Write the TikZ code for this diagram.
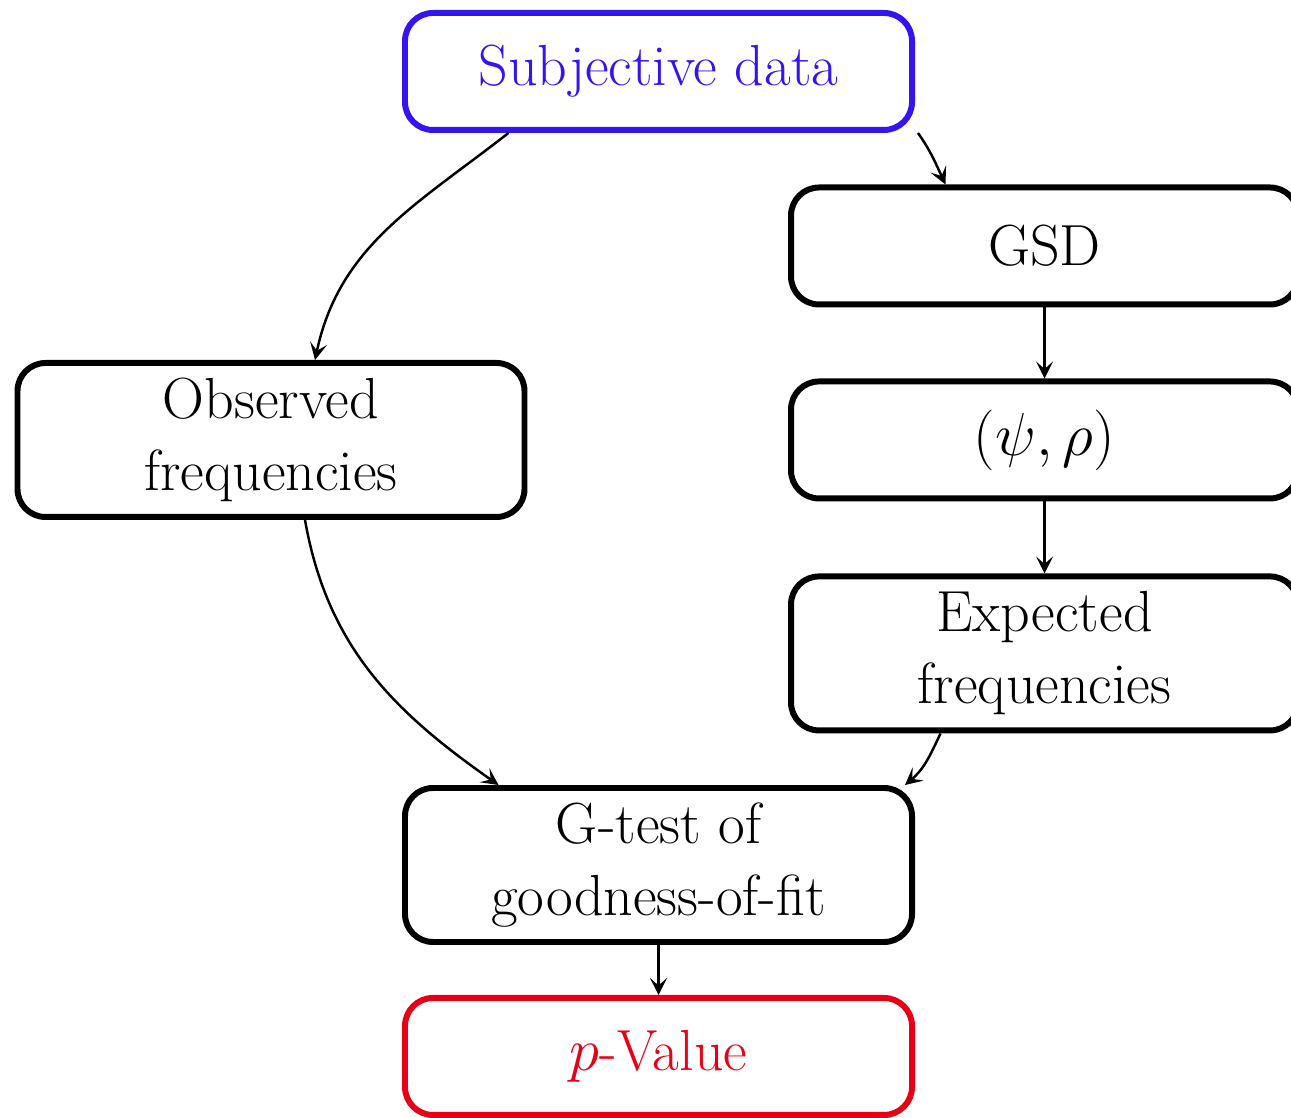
\documentclass[tikz,border=0pt]{standalone}
\usepackage{amsmath,amssymb}
\usepackage{tikz}
\usetikzlibrary{arrows,arrows.meta,positioning,calc}
\usepackage{xcolor}

\definecolor{subjblue}{RGB}{52,20,240}
\definecolor{pvalred}{RGB}{232,0,22}

\tikzset{
    box/.style={draw, line width=1.7pt, rounded corners=0.28cm, align=center,
        minimum width=5.07cm, minimum height=1.17cm, inner sep=2pt,
        font=\fontsize{16.5}{20.5}\selectfont},
    tallbox/.style={box, minimum height=1.54cm},
    flow/.style={-{Stealth[length=1.7mm, width=1.7mm, inset=0.75mm]}, line width=0.7pt},
}

\begin{document}
\begin{tikzpicture}
                \useasboundingbox (0,0) rectangle (12.91,11.18);
                % Boxes
                \node[box, draw=subjblue, text=subjblue] (subj) at (6.585,10.465) {Subjective data};
                \node[box] (gsd) at (10.445,8.72) {GSD};
                \node[box, below=0.71cm of gsd] (psi) {$(\psi,\rho)$};
                \node[tallbox, below=0.72cm of psi] (expf) {Expected\\frequencies};
                \node[tallbox] (obs) at (2.71,6.78) {Observed\\frequencies};
                \node[tallbox] (gtest) at (6.585,2.53) {G-test of\\goodness-of-fit};
                \node[box, draw=pvalred, text=pvalred, below=0.5cm of gtest] (pval) {$p$-Value};
                % Arrows
                \draw[flow] ([xshift=-1.5cm]subj.south) to[out=218,in=78] ([xshift=0.44cm]obs.north);
                \draw[flow] ([xshift=0.03cm]subj.south east) to[out=-55,in=115] ([xshift=-0.99cm]gsd.north);
                \draw[flow] (gsd) -- (psi);
                \draw[flow] (psi) -- (expf);
                \draw[flow] ([xshift=0.34cm]obs.south) to[out=-80,in=145] ([xshift=-1.6cm]gtest.north);
                \draw[flow] ([xshift=-1.04cm]expf.south) to[out=-115,in=40] ([xshift=-0.1cm]gtest.north east);
                \draw[flow] (gtest) -- (pval);
            \end{tikzpicture}
\end{document}
